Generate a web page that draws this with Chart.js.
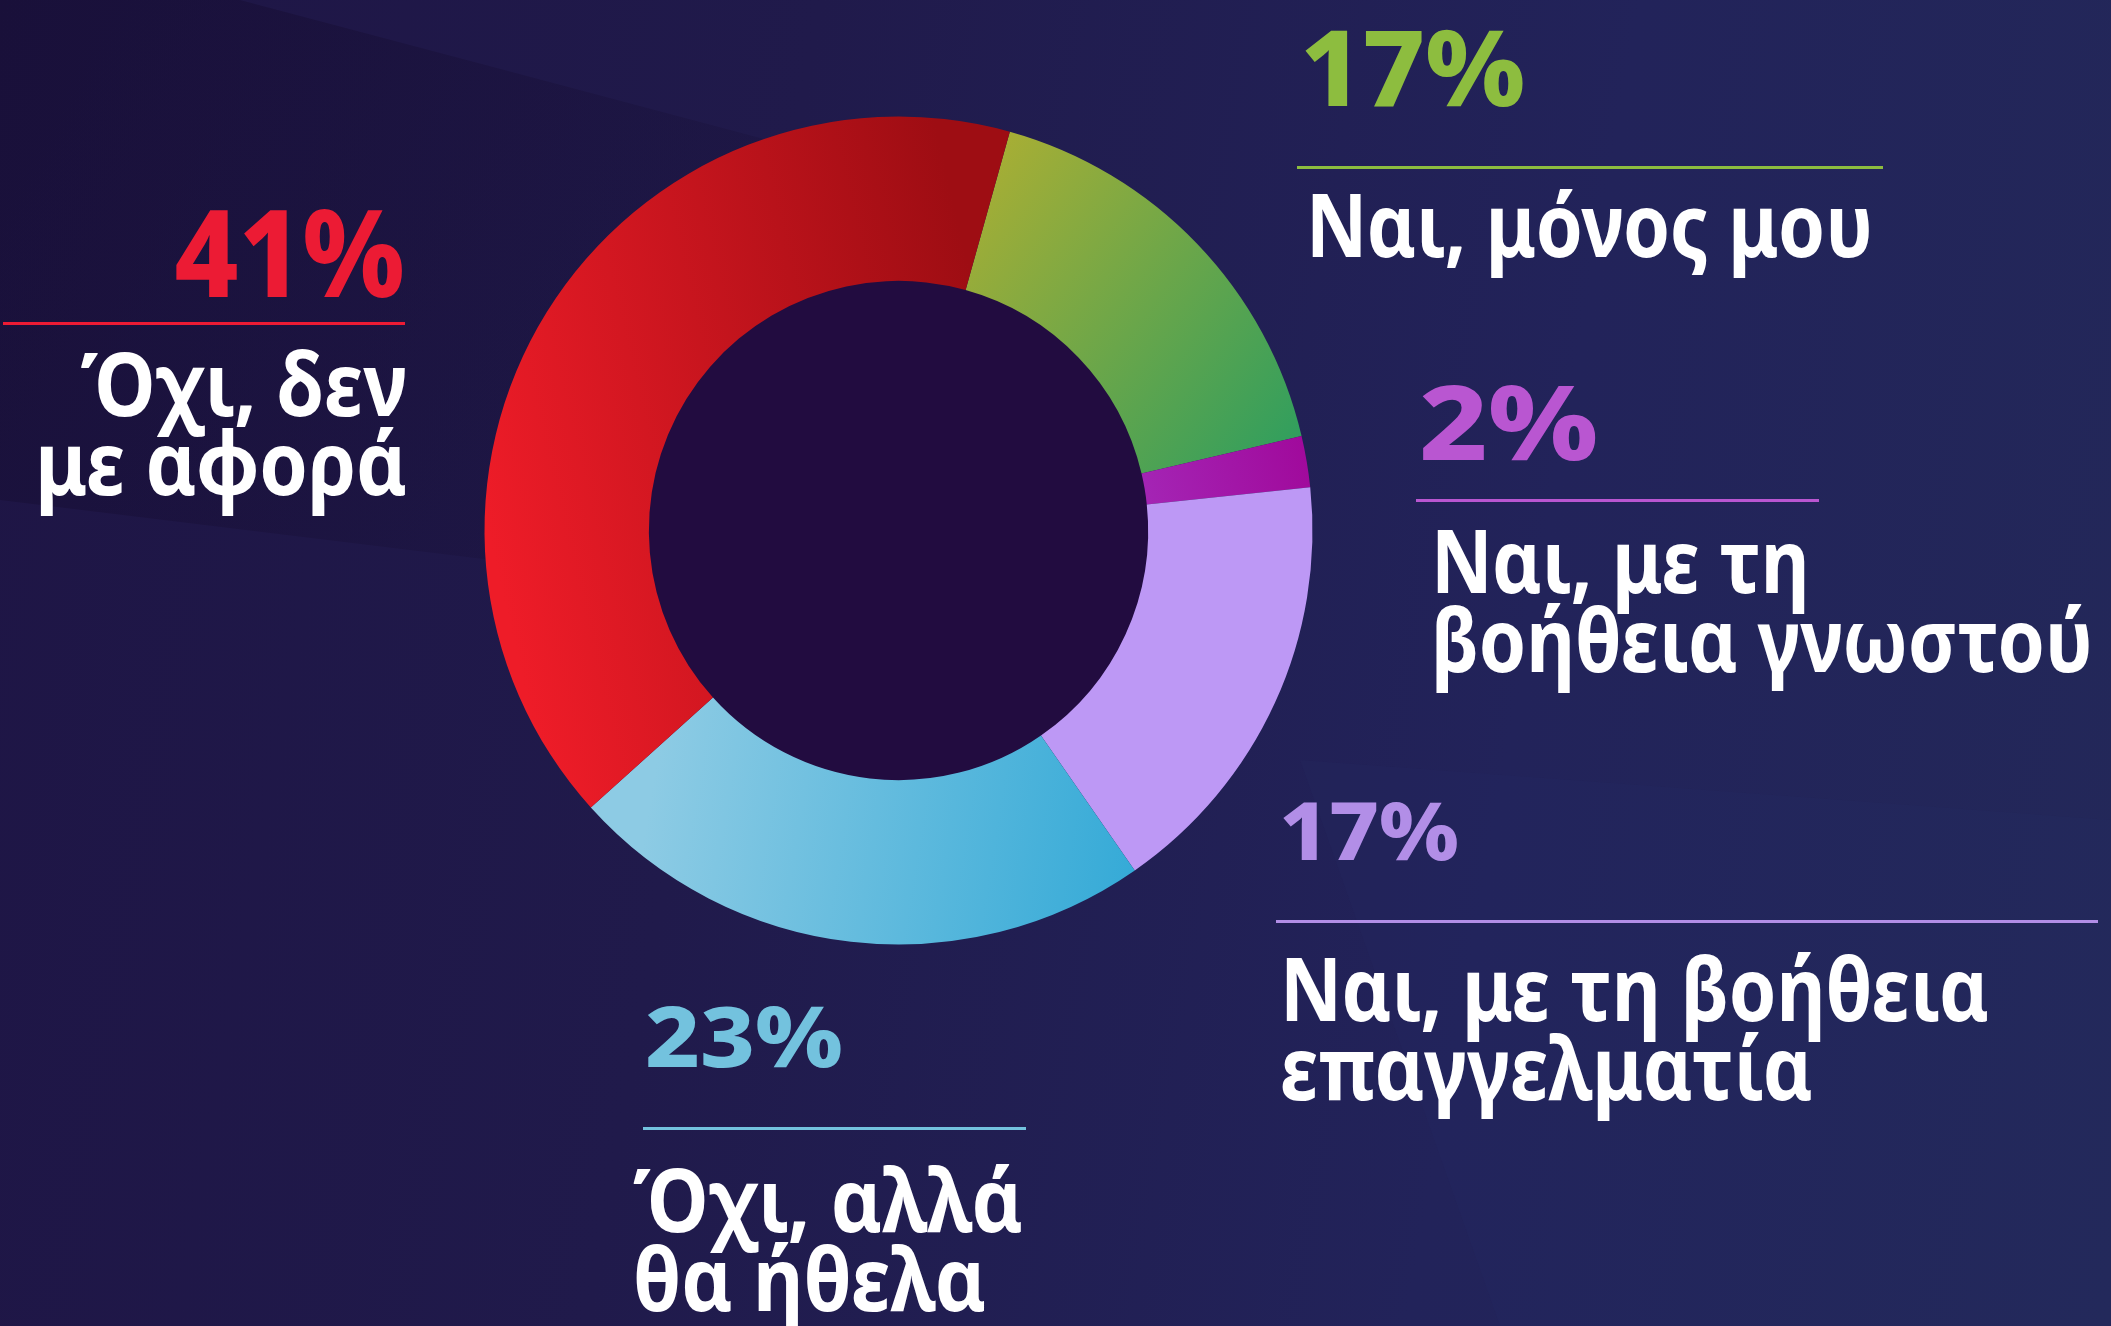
<!DOCTYPE html>
<html>
<head>
<meta charset="utf-8">
<script src="https://cdn.jsdelivr.net/npm/chart.js@4"></script>
<style>
  html, body { margin:0; padding:0; }
  body {
    width:2111px; height:1326px; overflow:hidden; position:relative;
    background: linear-gradient(100deg, #1e1545 0%, #201a4b 35%, #22235a 70%, #232859 100%);
    font-family: "Noto Sans", "Open Sans", sans-serif;
  }
  .band { position:absolute; left:0; top:0; width:2111px; height:1326px; pointer-events:none; }
  #wrap { position:absolute; left:0; top:0; width:2111px; height:1326px; }
  .lbl { position:absolute; white-space:nowrap; color:#fff; font-weight:700; transform-origin:0 0; }
  .lbl.right { transform-origin:100% 0; text-align:right; }
  .rule { position:absolute; height:3px; }
</style>
</head>
<body>
<svg class="band" viewBox="0 0 2111 1326">
  <defs>
    <linearGradient id="dk" x1="0" y1="0" x2="1" y2="0.4">
      <stop offset="0" stop-color="#140b2e" stop-opacity="0.5"/>
      <stop offset="1" stop-color="#140b2e" stop-opacity="0.12"/>
    </linearGradient>
  </defs>
  <polygon points="0,0 240,0 900,175 900,610 0,500" fill="url(#dk)"/>
  <polygon points="1300,760 2111,820 2111,1326 1500,1326" fill="#2a3068" opacity="0.12"/>
</svg>
<div id="wrap"><canvas id="chart" width="2111" height="1326"></canvas></div>
<div id="labels"></div>
<script>
// answer shares, in chart order (clockwise from the top-right)
const categories = [
  'Ναι, μόνος μου',
  'Ναι, με τη βοήθεια γνωστού',
  'Ναι, με τη βοήθεια επαγγελματία',
  'Όχι, αλλά θα ήθελα',
  'Όχι, δεν με αφορά'
];
const values = [17, 2, 17, 23, 41];
const labelLines = [
  ['Ναι, μόνος μου'],
  ['Ναι, με τη', 'βοήθεια γνωστού'],
  ['Ναι, με τη βοήθεια', 'επαγγελματία'],
  ['Όχι, αλλά', 'θα ήθελα'],
  ['Όχι, δεν', 'με αφορά']
];
const pctColors = ['#8dbd3f', '#b956d1', '#b28ee7', '#73c2de', '#ec1b34'];

// where each label block sits (x, baselines, sizes, rule)
const layout = [
  { x:1300, pctBase:106, pctSize:105, pctW:225, ruleY:167, ruleX:[1297,1883], tx:1306, tBase:258, tW:567, align:'left' },
  { x:1419, pctBase:460, pctSize:104, pctW:179, ruleY:500, ruleX:[1416,1819], tx:1431, tBase:594, tW:662, align:'left' },
  { x:1279, pctBase:860, pctSize:81,  pctW:180, ruleY:921, ruleX:[1276,2098], tx:1280, tBase:1022, tW:709, align:'left' },
  { x:645,  pctBase:1067, pctSize:83, pctW:198, ruleY:1128, ruleX:[643,1026], tx:633, tBase:1233, tW:390, align:'left' },
  { x:405,  pctBase:297, pctSize:122, pctW:230, ruleY:323, ruleX:[3,405],    tx:407, tBase:417, tW:372, align:'right' }
];

const ASC = 1.069, DESC = 0.293;
function topFor(baseline, fs, lh) {
  return baseline - ((lh - (ASC + DESC) * fs) / 2 + ASC * fs);
}

function makeLabels() {
  const host = document.getElementById('labels');
  layout.forEach((L, i) => {
    // percent
    const p = document.createElement('div');
    p.className = 'lbl' + (L.align === 'right' ? ' right' : '');
    p.textContent = values[i] + '%';
    p.style.fontSize = L.pctSize + 'px';
    p.style.lineHeight = L.pctSize + 'px';
    p.style.color = pctColors[i];
    p.style.fontWeight = '800';
    p.style.top = topFor(L.pctBase, L.pctSize, L.pctSize) + 'px';
    host.appendChild(p);
    fit(p, L.x, L.pctW, L.align);

    // rule
    const r = document.createElement('div');
    r.className = 'rule';
    r.style.left = L.ruleX[0] + 'px';
    r.style.width = (L.ruleX[1] - L.ruleX[0]) + 'px';
    r.style.top = (L.ruleY - 1) + 'px';
    r.style.background = pctColors[i];
    host.appendChild(r);

    // answer text
    const fs = 88, lh = 79;
    const t = document.createElement('div');
    t.className = 'lbl' + (L.align === 'right' ? ' right' : '');
    t.innerHTML = labelLines[i].join('<br>');
    t.style.fontSize = fs + 'px';
    t.style.lineHeight = lh + 'px';
    t.style.top = topFor(L.tBase, fs, lh) + 'px';
    host.appendChild(t);
    fit(t, L.tx, L.tW, L.align);
  });
}

function fit(el, x, w, align) {
  const natural = el.getBoundingClientRect().width;
  const s = w / natural;
  el.style.transform = 'scaleX(' + s.toFixed(3) + ')';
  if (align === 'right') el.style.left = (x - natural) + 'px';
  else el.style.left = x + 'px';
}

function grad(ctx, x0, y0, x1, y1, c0, c1) {
  const g = ctx.createLinearGradient(x0, y0, x1, y1);
  g.addColorStop(0, c0); g.addColorStop(1, c1);
  return g;
}

const holePlugin = {
  id: 'hole',
  beforeDatasetsDraw(chart) {
    const arc = chart.getDatasetMeta(0).data[0];
    if (!arc) return;
    const ctx = chart.ctx;
    ctx.save();
    ctx.beginPath();
    ctx.arc(arc.x, arc.y, arc.innerRadius + 1, 0, Math.PI * 2);
    ctx.fillStyle = '#220c40';
    ctx.fill();
    ctx.restore();
  }
};

const ctx = document.getElementById('chart').getContext('2d');
const fills = [
  grad(ctx, 960, 200, 1300, 460, '#a6ae35', '#2d9e5f'),
  grad(ctx, 1140, 460, 1310, 420, '#a424b4', '#a0089a'),
  '#bd98f5',
  grad(ctx, 650, 800, 1140, 880, '#8dcbe4', '#34aad7'),
  grad(ctx, 485, 520, 1000, 400, '#ee1c28', '#9e0d13')
];

new Chart(ctx, {
  type: 'doughnut',
  plugins: [holePlugin],
  data: {
    labels: categories,
    datasets: [{
      data: values,
      backgroundColor: fills,
      borderWidth: 0,
      hoverOffset: 0,
      offset: 0
    }]
  },
  options: {
    responsive: false,
    animation: false,
    rotation: 15.6,
    cutout: '60.3%',
    layout: { padding: { left: 484.5, right: 798.5, top: 116.5, bottom: 381.5 } },
    plugins: { legend: { display: false }, tooltip: { enabled: false } },
    events: []
  }
});

document.fonts.ready.then(makeLabels);
</script>
</body>
</html>
